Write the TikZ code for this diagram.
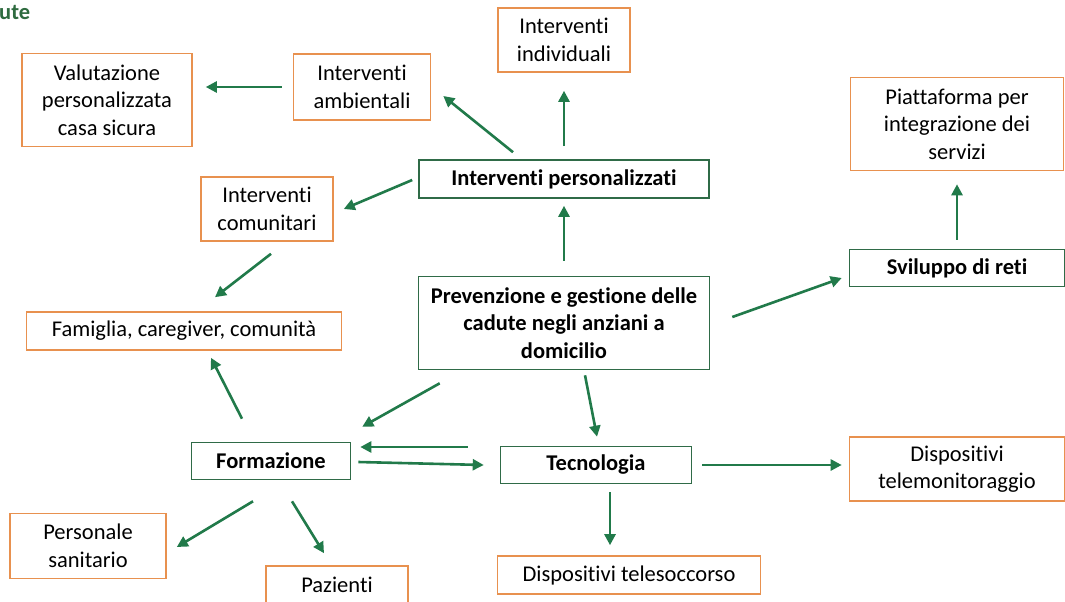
\documentclass[tikz,border=0pt]{standalone}
\usepackage{fontspec}
\setmainfont{Carlito}[Ligatures=NoCommon]
\usetikzlibrary{calc, arrows.meta}
\definecolor{boxorange}{HTML}{E8914F}
\definecolor{boxgreen}{HTML}{2F6B47}
\definecolor{arrgreen}{HTML}{217A4A}
\definecolor{titlegreen}{HTML}{2E6B3F}
\tikzset{
  obox/.style={draw=boxorange, line width=1.6pt, align=center, inner sep=0pt, font=\fontsize{22.5}{27.5}\selectfont},
  gbox/.style={draw=boxgreen, line width=1.6pt, align=center, inner sep=0pt, font=\fontsize{22.5}{27.5}\selectfont\bfseries},
  arr/.style={arrgreen, line width=2.6pt, -{Triangle[length=11pt,width=11pt]}},
}

\begin{document}
\begin{tikzpicture}[x=1pt, y=-1pt]
    \useasboundingbox[fill=white] (0,0) rectangle (1065,602);
    \node[anchor=west, inner sep=0pt, text=titlegreen, font=\fontsize{22.5}{26}\selectfont\bfseries] (title) at (-1,12) {ute};
    % boxes
    \node[obox, minimum width=170pt, minimum height=93pt] (val) at (107,100) {Valutazione\\personalizzata\\casa sicura};
    \node[obox, minimum width=137pt, minimum height=66pt] (amb) at (362,87) {Interventi\\ambientali};
    \node[obox, minimum width=132pt, minimum height=64pt] (ind) at (564,40) {Interventi\\individuali};
    \node[obox, minimum width=213pt, minimum height=93pt] (piat) at (957,124) {Piattaforma per\\integrazione dei\\servizi};
    \node[gbox, minimum width=290pt, minimum height=38pt] (pers) at (564,179) {Interventi personalizzati};
    \node[obox, minimum width=132pt, minimum height=64pt] (com) at (267,209) {Interventi\\comunitari};
    \node[gbox, minimum width=215pt, minimum height=37pt] (svil) at (957,268) {Sviluppo di reti};
    \node[gbox, minimum width=291pt, minimum height=93pt] (prev) at (564,323) {Prevenzione e gestione delle\\cadute negli anziani a\\domicilio};
    \node[obox, minimum width=315pt, minimum height=38pt] (fam) at (184,331) {Famiglia, caregiver, comunità};
    \node[gbox, minimum width=159pt, minimum height=37pt] (form) at (271,461) {Formazione};
    \node[gbox, minimum width=191pt, minimum height=37pt] (tec) at (596,465) {Tecnologia};
    \node[obox, minimum width=215pt, minimum height=64pt] (tel) at (957,469) {Dispositivi\\telemonitoraggio};
    \node[obox, minimum width=156pt, minimum height=65pt] (san) at (88,546) {Personale\\sanitario};
    \node[obox, minimum width=142pt, minimum height=38pt] (paz) at (337,585) {Pazienti};
    \node[obox, minimum width=263pt, minimum height=38pt] (soc) at (629,575) {Dispositivi telesoccorso};
    % arrows
    \draw[arr, shorten <=11pt, shorten >=13pt] (amb.west) -- (amb.west -| val.east);
    \draw[arr] ($(pers.north)+(-51,-7)$) -- ($(amb.east)+(12,9)$);
    \draw[arr, shorten <=13pt, shorten >=18pt] (pers.north) -- (ind.south);
    \draw[arr] ($(pers.west)+(-6,1)$) -- ($(com.east)+(10,0)$);
    \draw[arr] ($(com.south)+(4,12)$) -- ($(fam.north)+(31,-14)$);
    \draw[arr, shorten <=15pt, shorten >=7pt] (prev.north) -- (pers.south);
    \draw[arr] ($(prev.east)+(22,-6)$) -- ($(svil.west)+(-7,10)$);
    \draw[arr, shorten <=9pt, shorten >=13pt] (svil.north) -- (piat.south);
    \draw[arr] ($(form.north)+(-29,-23)$) -- ($(fam.south)+(27,7)$);
    \draw[arr] ($(prev.south west)+(22,13)$) -- ($(form.north east)+(11,-15)$);
    \draw[arr] ($(prev.south)+(21,5)$) -- ($(tec.north)+(1,-9)$);
    \draw[arr] ($(tec.west)+(-32,-18)$) -- ($(form.east)+(9,-14)$);
    \draw[arr] ($(form.east)+(7,1)$) -- ($(tec.west)+(-16,0)$);
    \draw[arr, shorten <=10pt, shorten >=7pt] (tec.east) -- (tec.east -| tel.west);
    \draw[arr] ($(tec.south)+(14,8)$) -- ($(soc.north)+(-19,-10)$);
    \draw[arr] ($(form.south)+(-18,21)$) -- ($(san.east)+(10,1)$);
    \draw[arr] ($(form.south)+(21,21)$) -- ($(paz.north)+(-13,-12)$);
\end{tikzpicture}
\end{document}
